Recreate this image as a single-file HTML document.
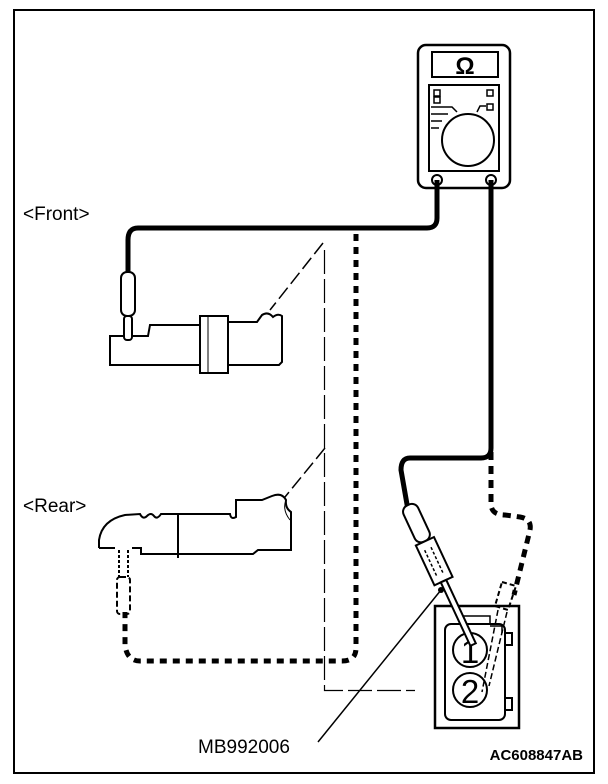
<!DOCTYPE html>
<html><head><style>
html,body{margin:0;padding:0;background:#fff;}
svg{display:block;}
text{font-family:"Liberation Sans",sans-serif;}
</style></head><body>
<svg width="608" height="784" viewBox="0 0 608 784" xmlns="http://www.w3.org/2000/svg">
<rect x="14" y="10" width="580" height="763" fill="none" stroke="#000" stroke-width="2"/>

<!-- thin dash lines -->
<path d="M324.5 250 V690.5 H415" fill="none" stroke="#000" stroke-width="1.2" stroke-dasharray="24 5"/>
<path d="M323 243 L270 310" fill="none" stroke="#000" stroke-width="1.5" stroke-dasharray="14 5"/>
<path d="M325 448 L285 497" fill="none" stroke="#000" stroke-width="1.5" stroke-dasharray="14 5"/>

<!-- multimeter -->
<rect x="418" y="45" width="92" height="143" rx="8" fill="#fff" stroke="#000" stroke-width="2.5"/>
<rect x="432" y="52" width="66" height="25" fill="#fff" stroke="#000" stroke-width="2"/>
<text x="465" y="74" font-size="24" font-weight="bold" text-anchor="middle">Ω</text>
<rect x="429" y="85" width="70" height="86" fill="none" stroke="#000" stroke-width="2"/>
<rect x="434" y="90" width="6" height="6" fill="none" stroke="#000" stroke-width="1.5"/>
<rect x="434" y="97" width="6" height="6" fill="none" stroke="#000" stroke-width="1.5"/>
<rect x="487" y="90" width="6" height="6" fill="none" stroke="#000" stroke-width="1.5"/>
<rect x="487" y="104" width="6" height="6" fill="none" stroke="#000" stroke-width="1.5"/>
<path d="M431 107 H452 L457 112 M431 114 H448 M431 121 H442 M431 128 H439 M477 112 L480 106 H486" fill="none" stroke="#000" stroke-width="1.5"/>
<circle cx="468" cy="140" r="26" fill="#fff" stroke="#000" stroke-width="2"/>
<circle cx="437" cy="180" r="5" fill="#fff" stroke="#000" stroke-width="2"/>
<circle cx="491" cy="180" r="5" fill="#fff" stroke="#000" stroke-width="2"/>

<!-- black wires -->
<path d="M437 180 V218 Q437 228 427 228 H138 Q128 228 128 240 V272" fill="none" stroke="#000" stroke-width="5"/>
<path d="M491 180 V448 Q491 458 481 458 H410 Q401 458 401 470 L408 510" fill="none" stroke="#000" stroke-width="5"/>

<!-- thick dotted wire front -->
<path d="M356 234 V648 Q356 661 342 661 H140 Q127 661 125 645 V612" fill="none" stroke="#000" stroke-width="5" stroke-dasharray="7 6"/>
<!-- rear dashed probe -->
<rect x="117" y="577" width="13" height="37" rx="3" fill="none" stroke="#000" stroke-width="2" stroke-dasharray="6 3"/>
<path d="M119 550 V577 M128 550 V577" fill="none" stroke="#000" stroke-width="2" stroke-dasharray="3 2"/>
<!-- thick dashed right -->
<path d="M491 452 V505 Q492 515 505 515 L520 517 Q532 519 530 530 L514 595" fill="none" stroke="#000" stroke-width="5" stroke-dasharray="8 6"/>

<!-- front probe -->
<rect x="121" y="272" width="14" height="44" rx="6" fill="#fff" stroke="#000" stroke-width="2"/>
<rect x="124" y="316" width="8" height="24" rx="3" fill="#fff" stroke="#000" stroke-width="2"/>

<!-- front connector -->
<path d="M124 336 H110 V365 H200" fill="none" stroke="#000" stroke-width="2"/>
<path d="M132 336 H148 L150 325 H200" fill="none" stroke="#000" stroke-width="2"/>
<rect x="200" y="316" width="28" height="57" fill="#fff" stroke="#000" stroke-width="2"/>
<line x1="208" y1="316" x2="208" y2="373" stroke="#000" stroke-width="1"/>
<path d="M228 322 H257 L262 315 Q268 311 273 317 Q278 313 282 316 V362 L279 365 H228" fill="none" stroke="#000" stroke-width="2"/>

<!-- rear connector -->
<path d="M99 548 V540 Q102 520 125 515 L140 514 Q143 520 147 516 Q151 512 154 516 Q157 520 161 514 H230 Q231 520 236 517 V500 H262 L272 496 Q282 492 286 500 Q285 508 291 512 V550 H258 L253 554 H141 V548 H132 M115 548 H99" fill="none" stroke="#000" stroke-width="2"/>
<line x1="178" y1="513" x2="178" y2="558" stroke="#000" stroke-width="2"/>
<path d="M286 500 Q282 510 290 520" fill="none" stroke="#000" stroke-width="1"/>

<!-- right connector -->
<rect x="435" y="606" width="84" height="122" fill="#fff" stroke="#000" stroke-width="2.5"/>
<rect x="445" y="624" width="60" height="96" rx="6" fill="none" stroke="#000" stroke-width="2"/>
<path d="M460 616 H490 V624 M490 626 H502 V633" fill="none" stroke="#000" stroke-width="1.5"/>
<rect x="505" y="633" width="7" height="12" fill="none" stroke="#000" stroke-width="2"/>
<rect x="505" y="698" width="7" height="12" fill="none" stroke="#000" stroke-width="2"/>
<circle cx="470" cy="650" r="17" fill="#fff" stroke="#000" stroke-width="2"/>
<circle cx="470" cy="690" r="17" fill="#fff" stroke="#000" stroke-width="2"/>
<text x="470" y="663" font-size="33" text-anchor="middle">1</text>
<text x="470" y="703" font-size="33" text-anchor="middle">2</text>
<!-- dashed probe on right -->
<path d="M502 582 L516 586 L508 610 L495 606 Z" fill="none" stroke="#000" stroke-width="2" stroke-dasharray="5 3"/>
<path d="M498 610 L482 692 M507 612 L489 686" fill="none" stroke="#000" stroke-width="1.5" stroke-dasharray="6 3"/>

<!-- black probe right (angled) -->
<g transform="translate(408,505) rotate(-25)">
<rect x="-8" y="0" width="16" height="40" rx="7" fill="#fff" stroke="#000" stroke-width="2"/>
<rect x="-10" y="40" width="20" height="44" fill="#fff" stroke="#000" stroke-width="2"/>
<path d="M-4 48 V76 M3 48 V76" stroke="#000" stroke-width="1.5" stroke-dasharray="3 2"/>
<rect x="-3" y="84" width="6" height="70" fill="#fff" stroke="#000" stroke-width="2"/>
</g>
<circle cx="441" cy="590" r="3" fill="#000"/>

<!-- leader -->
<line x1="318" y1="742" x2="441" y2="590" stroke="#000" stroke-width="1.5"/>

<text x="23" y="220" font-size="19">&lt;Front&gt;</text>
<text x="23" y="512" font-size="19">&lt;Rear&gt;</text>
<text x="198" y="753" font-size="19">MB992006</text>
<text x="583" y="760" font-size="15" font-weight="bold" text-anchor="end">AC608847AB</text>
</svg>
</body></html>
